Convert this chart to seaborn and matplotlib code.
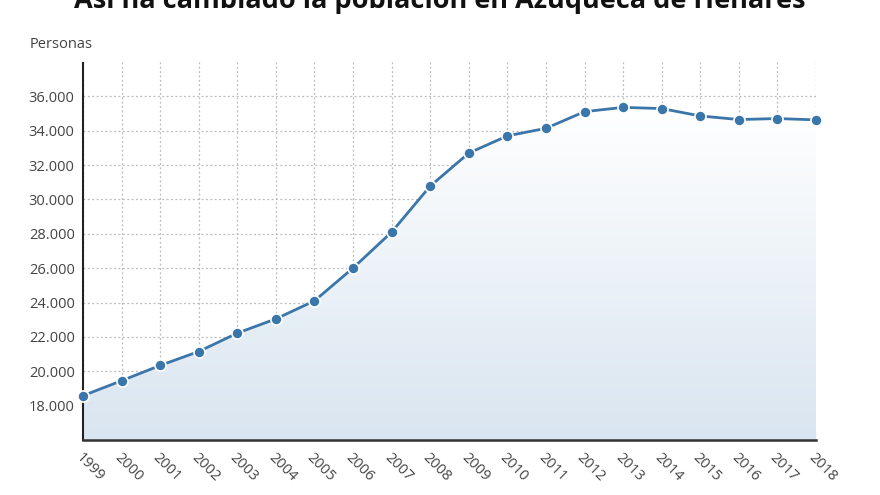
import numpy as np
import pandas as pd
import matplotlib
matplotlib.use("Agg")
import matplotlib.pyplot as plt
import seaborn as sns
from matplotlib.ticker import FuncFormatter

years = list(range(1999, 2019))
population = [18580, 19450, 20340, 21150, 22220, 23050, 24100, 26010, 28100, 30780,
              32700, 33700, 34140, 35110, 35360, 35290, 34860, 34650, 34710, 34630]
y_ticks = [18000, 20000, 22000, 24000, 26000, 28000, 30000, 32000, 34000, 36000]

title = "Así ha cambiado la población en Azuqueca de Henares"
y_label = "Personas"

df = pd.DataFrame({"year": years, "population": population})

sns.set_theme(style="white")
plt.rcParams["font.family"] = ["Open Sans", "DejaVu Sans"]

line_color = "#3b76aa"
text_color = "#444444"

fig = plt.figure(figsize=(8.8, 4.95), dpi=100)
ax = fig.add_axes([83 / 880, 1 - 440 / 495, (816 - 83) / 880, (440 - 62) / 495])

ymin, ymax = 16000, 38000
ax.set_xlim(1999, 2018)
ax.set_ylim(ymin, ymax)

# gradient area under the line
fill = ax.fill_between(df["year"], df["population"], ymin, color="none", lw=0)
grad = np.linspace(0, 1, 256).reshape(-1, 1)
cmap = matplotlib.colors.LinearSegmentedColormap.from_list("g", ["#ffffff", "#d9e5f0"])
img = ax.imshow(grad, extent=[1999, 2018, ymin, 35400], origin="upper", aspect="auto",
                cmap=cmap, zorder=1)
img.set_clip_path(fill.get_paths()[0], transform=ax.transData)

sns.lineplot(data=df, x="year", y="population", ax=ax, color=line_color, lw=2,
             marker="o", markersize=8, markeredgecolor="white", markeredgewidth=1.2,
             zorder=3, clip_on=False)

ax.set_xticks(years)
ax.set_yticks(y_ticks)
ax.yaxis.set_major_formatter(FuncFormatter(lambda v, p: f"{int(v):,}".replace(",", ".")))
ax.grid(True, color="#bbbbbb", linestyle=(0, (1.5, 2)), lw=0.9)
ax.set_axisbelow(True)

for s in ["top", "right"]:
    ax.spines[s].set_visible(False)
ax.spines["left"].set_linestyle((0, (1, 1)))
ax.spines["left"].set_color("#222222")
ax.spines["left"].set_linewidth(1.5)
ax.spines["bottom"].set_color("#333333")
ax.spines["bottom"].set_linewidth(1.8)

ax.tick_params(axis="both", which="major", length=4, width=1, color="#333333",
               labelsize=10.5, labelcolor=text_color, direction="out")
ax.tick_params(axis="y", length=3, pad=3)
ax.tick_params(axis="x", pad=3)
for lbl in ax.get_xticklabels():
    lbl.set_rotation(-45)
    lbl.set_ha("left")
    lbl.set_va("top")
    lbl.set_rotation_mode("anchor")
ax.set_xlabel("")
ax.set_ylabel("")

fig.text(30 / 880, 1 - 44 / 495, y_label, fontsize=10.5, color=text_color,
         va="center", ha="left")
fig.text(0.5, 1 - 1 / 495, title, fontsize=19.5, fontweight="bold", color="#111111",
         ha="center", va="center")

fig.savefig("out.png", dpi=100)
